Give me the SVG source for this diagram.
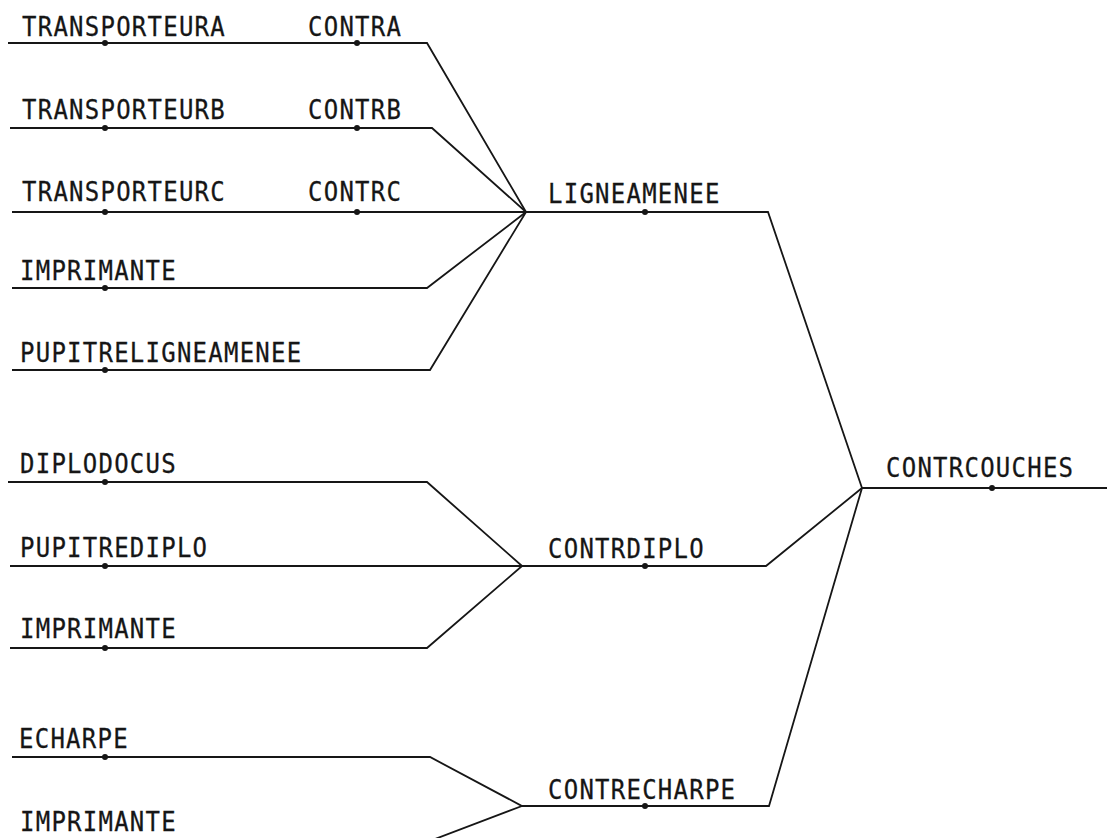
<svg xmlns="http://www.w3.org/2000/svg" width="1107" height="838" viewBox="0 0 1107 838">
  <style>
    .bg { fill: #ffffff; }
    .lbl { font-family: "DejaVu Sans Mono", "Liberation Mono", monospace; font-size: 24px; letter-spacing: 1.25px; fill: #161616; stroke: #161616; stroke-width: 0.25; }
    .wire { fill: none; stroke: #161616; stroke-width: 1.8; stroke-linejoin: miter; stroke-linecap: butt; }
    .dot { fill: #161616; }
  </style>
  <defs>
    <circle id="pt" r="3" class="dot"/>
  </defs>
  <rect class="bg" x="0" y="0" width="1107" height="838"/>

  <!-- tree wiring -->
  <g id="connectors">
    <!-- inputs to LIGNEAMENEE -->
    <polyline class="wire" points="8,43 427,43 526,212"/>
    <polyline class="wire" points="10,128 432,128 526,212"/>
    <polyline class="wire" points="12,212 526,212 768,212 862,488"/>
    <polyline class="wire" points="12,288 427,288 526,212"/>
    <polyline class="wire" points="12,370 430,370 526,212"/>
    <!-- inputs to CONTRDIPLO -->
    <polyline class="wire" points="8,482 427,482 522,566"/>
    <polyline class="wire" points="10,566 522,566 766,566 862,488"/>
    <polyline class="wire" points="10,648 427,648 522,566"/>
    <!-- inputs to CONTRECHARPE -->
    <polyline class="wire" points="12,757 430,757 522,806 769,806 862,488"/>
    <polyline class="wire" points="12,850 406,850 522,806"/>
    <!-- output -->
    <polyline class="wire" points="862,488 1107,488"/>
  </g>

  <g id="transporteura">
    <text class="lbl" transform="translate(22,36) scale(1,1.14)">TRANSPORTEURA</text>
    <use href="#pt" x="105" y="43"/>
  </g>
  <g id="contra">
    <text class="lbl" transform="translate(308,36) scale(1,1.14)">CONTRA</text>
    <use href="#pt" x="357" y="43"/>
  </g>
  <g id="transporteurb">
    <text class="lbl" transform="translate(22,119) scale(1,1.14)">TRANSPORTEURB</text>
    <use href="#pt" x="105" y="128"/>
  </g>
  <g id="contrb">
    <text class="lbl" transform="translate(308,119) scale(1,1.14)">CONTRB</text>
    <use href="#pt" x="357" y="128"/>
  </g>
  <g id="transporteurc">
    <text class="lbl" transform="translate(22,201) scale(1,1.14)">TRANSPORTEURC</text>
    <use href="#pt" x="105" y="212"/>
  </g>
  <g id="contrc">
    <text class="lbl" transform="translate(308,201) scale(1,1.14)">CONTRC</text>
    <use href="#pt" x="357" y="212"/>
  </g>
  <g id="imprimante-1">
    <text class="lbl" transform="translate(20,280) scale(1,1.14)">IMPRIMANTE</text>
    <use href="#pt" x="105" y="288"/>
  </g>
  <g id="pupitreligneamenee">
    <text class="lbl" transform="translate(20,362) scale(1,1.14)">PUPITRELIGNEAMENEE</text>
    <use href="#pt" x="105" y="370"/>
  </g>
  <g id="ligneamenee">
    <text class="lbl" transform="translate(548,203) scale(1,1.14)">LIGNEAMENEE</text>
    <use href="#pt" x="645" y="212"/>
  </g>

  <g id="diplodocus">
    <text class="lbl" transform="translate(20,473) scale(1,1.14)">DIPLODOCUS</text>
    <use href="#pt" x="105" y="482"/>
  </g>
  <g id="pupitrediplo">
    <text class="lbl" transform="translate(20,557) scale(1,1.14)">PUPITREDIPLO</text>
    <use href="#pt" x="105" y="566"/>
  </g>
  <g id="imprimante-2">
    <text class="lbl" transform="translate(20,638) scale(1,1.14)">IMPRIMANTE</text>
    <use href="#pt" x="105" y="648"/>
  </g>
  <g id="contrdiplo">
    <text class="lbl" transform="translate(548,558) scale(1,1.14)">CONTRDIPLO</text>
    <use href="#pt" x="645" y="566"/>
  </g>

  <g id="echarpe">
    <text class="lbl" transform="translate(19,748) scale(1,1.14)">ECHARPE</text>
    <use href="#pt" x="105" y="757"/>
  </g>
  <g id="imprimante-3">
    <text class="lbl" transform="translate(20,831) scale(1,1.14)">IMPRIMANTE</text>
  </g>
  <g id="contrecharpe">
    <text class="lbl" transform="translate(548,799) scale(1,1.14)">CONTRECHARPE</text>
    <use href="#pt" x="645" y="806"/>
  </g>

  <g id="contrcouches">
    <text class="lbl" transform="translate(886,477) scale(1,1.14)">CONTRCOUCHES</text>
    <use href="#pt" x="992" y="488"/>
  </g>
</svg>
